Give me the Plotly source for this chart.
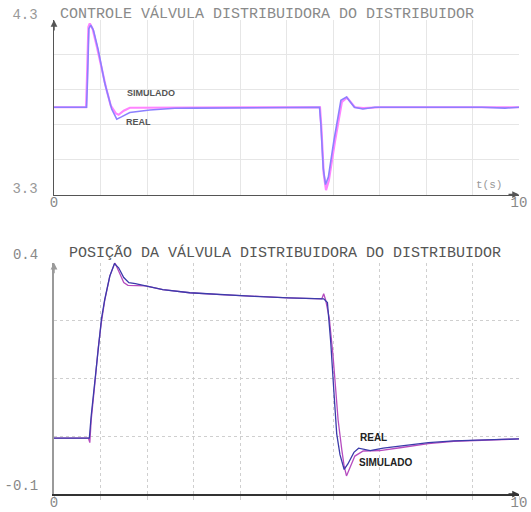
import plotly.graph_objects as go

# ---------------- data: top chart (CONTROLE) ----------------
t_top_real = [0, 0.70, 0.72, 0.75, 0.79, 0.85, 0.95, 1.09, 1.24, 1.35, 1.45, 1.63, 2.06, 2.6, 3.0, 4.0, 5.0,
              5.71, 5.74, 5.79, 5.84, 5.90, 6.02, 6.17, 6.29, 6.46, 6.64, 6.9, 7.5, 8.5, 9.2, 9.7, 10]
v_top_real = [3.80, 3.80, 3.95, 4.25, 4.27, 4.24, 4.13, 3.94, 3.79, 3.732, 3.745, 3.77, 3.784, 3.794, 3.795, 3.797, 3.798,
              3.80, 3.70, 3.45, 3.357, 3.40, 3.61, 3.84, 3.858, 3.80, 3.79, 3.80, 3.80, 3.80, 3.80, 3.795, 3.80]

t_top_sim = [0, 0.69, 0.71, 0.74, 0.77, 0.83, 0.92, 1.02, 1.12, 1.22, 1.33, 1.39, 1.50, 1.63, 2.3, 3.0, 5.0,
             5.72, 5.75, 5.80, 5.85, 5.91, 6.04, 6.19, 6.30, 6.47, 6.65, 7.0, 8.0, 9.0, 10]
v_top_sim = [3.80, 3.80, 3.97, 4.26, 4.28, 4.25, 4.15, 4.03, 3.91, 3.81, 3.765, 3.757, 3.78, 3.797, 3.798, 3.80, 3.80,
             3.80, 3.68, 3.42, 3.325, 3.38, 3.60, 3.83, 3.855, 3.80, 3.795, 3.80, 3.80, 3.80, 3.80]

# ---------------- data: bottom chart (POSIÇÃO) ----------------
t_bot_real = [0, 0.76, 0.80, 0.88, 0.95, 1.02, 1.09, 1.20, 1.30, 1.39, 1.50, 1.61, 1.75, 1.97, 2.34, 2.92, 3.58,
              4.31, 5.04, 5.80, 5.88, 5.95, 6.02, 6.08, 6.15, 6.24, 6.32, 6.45, 6.55, 6.68, 6.80, 7.08, 7.44,
              8.05, 8.6, 9.3, 10]
v_bot_real = [0.021, 0.021, 0.069, 0.148, 0.22, 0.278, 0.32, 0.371, 0.398, 0.389, 0.368, 0.357, 0.355, 0.350,
              0.342, 0.335, 0.331, 0.327, 0.324, 0.322, 0.314, 0.23, 0.12, 0.03, -0.015, -0.047, -0.035, -0.01,
              -0.001, -0.004, -0.006, -0.001, 0.004, 0.011, 0.015, 0.017, 0.019]

t_bot_sim = [0, 0.74, 0.77, 0.80, 0.88, 0.95, 1.02, 1.09, 1.20, 1.31, 1.39, 1.50, 1.59, 1.97, 2.34, 2.92, 3.58,
             4.31, 5.04, 5.76, 5.80, 5.84, 5.92, 6.00, 6.06, 6.11, 6.19, 6.24, 6.29, 6.36, 6.47, 6.65, 7.01,
             7.44, 8.05, 8.6, 9.3, 10]
v_bot_sim = [0.021, 0.021, 0.011, 0.06, 0.14, 0.215, 0.272, 0.318, 0.371, 0.400, 0.382, 0.357, 0.351, 0.350,
             0.342, 0.335, 0.331, 0.327, 0.324, 0.322, 0.333, 0.32, 0.28, 0.20, 0.12, 0.06, -0.005, -0.04,
             -0.061, -0.045, -0.018, -0.007, -0.006, 0.0, 0.009, 0.014, 0.017, 0.019]

# ---------------- labels / ticks ----------------
title_top = "CONTROLE VÁLVULA DISTRIBUIDORA DO DISTRIBUIDOR"
title_bot = "POSIÇÃO DA VÁLVULA DISTRIBUIDORA DO DISTRIBUIDOR"
x_ticks = list(range(0, 11))
x_ticktext = ["0"] + [""] * 9 + ["10"]
y_top_ticks = [3.3, 3.5, 3.7, 3.9, 4.1, 4.3]
y_top_text = ["3.3", "", "", "", "", "4.3"]
y_bot_ticks = [-0.1, 0.025, 0.15, 0.275, 0.4]
y_bot_text = ["-0.1", "", "", "", "0.4"]

MONO = "Liberation Mono, DejaVu Sans Mono, monospace"
SANS = "Liberation Sans, Arial, sans-serif"

fig = go.Figure()

fig.add_trace(go.Scatter(x=t_top_sim, y=v_top_sim, mode="lines", xaxis="x", yaxis="y",
                         line=dict(color="#ff84ff", width=2.2), showlegend=False, name="SIMULADO"))
fig.add_trace(go.Scatter(x=t_top_real, y=v_top_real, mode="lines", xaxis="x", yaxis="y",
                         line=dict(color="#8c80ff", width=1.6), showlegend=False, name="REAL"))
fig.add_trace(go.Scatter(x=t_bot_sim, y=v_bot_sim, mode="lines", xaxis="x2", yaxis="y2",
                         line=dict(color="#b64cbf", width=1.3), showlegend=False, name="SIMULADO"))
fig.add_trace(go.Scatter(x=t_bot_real, y=v_bot_real, mode="lines", xaxis="x2", yaxis="y2",
                         line=dict(color="#3b3baa", width=1.3), showlegend=False, name="REAL"))

xdom = [54 / 531, 519 / 531]
common_x = dict(domain=xdom, range=[0, 10], tickvals=x_ticks, ticktext=x_ticktext, automargin=False,
                showline=True, zeroline=False, tickfont=dict(family=MONO, size=14, color="#888"))

fig.update_layout(
    width=531, height=512,
    margin=dict(l=0, r=0, t=0, b=0, autoexpand=False),
    paper_bgcolor="white", plot_bgcolor="white", showlegend=False,
    xaxis=dict(**common_x, anchor="y", showgrid=True, gridcolor="#e6e6e6", gridwidth=1,
               linecolor="#555", linewidth=1.5, ticks="", ticklabelstandoff=-6),
    yaxis=dict(domain=[(512 - 194.5) / 512, (512 - 20) / 512], range=[3.3, 4.3], anchor="x",
               tickvals=y_top_ticks, ticktext=y_top_text, showgrid=True, gridcolor="#e6e6e6",
               showline=True, linecolor="#555", linewidth=1.5, zeroline=False, ticks="",
               ticklabelshift=-6, ticklabelstandoff=12, automargin=False,
               tickfont=dict(family=MONO, size=14, color="#999")),
    xaxis2=dict(**common_x, anchor="y2", showgrid=True, gridcolor="#cfcfcf", griddash="3px,3px",
                linecolor="#333", linewidth=1.5, ticks="outside", ticklen=4, tickcolor="#d0d0d0",
                ticklabelstandoff=-9),
    yaxis2=dict(domain=[(512 - 494) / 512, (512 - 262.7) / 512], range=[-0.1, 0.4], anchor="x2",
                tickvals=y_bot_ticks, ticktext=y_bot_text, showgrid=True, gridcolor="#cfcfcf",
                griddash="3px,3px", showline=True, linecolor="#9a9a9a", linewidth=2, zeroline=False,
                ticks="", ticklabelshift=-9, ticklabelstandoff=11, automargin=False,
                tickfont=dict(family=MONO, size=14, color="#888")),
)

ann = []
ann.append(dict(text=title_top, xref="paper", yref="paper", x=58 / 531, y=1 - 13.5 / 512,
                xanchor="left", yanchor="middle", showarrow=False,
                font=dict(family=MONO, size=15, color="#8a8a8a")))
ann.append(dict(text=title_bot, xref="paper", yref="paper", x=67 / 531, y=1 - 253 / 512,
                xanchor="left", yanchor="middle", showarrow=False,
                font=dict(family=MONO, size=15, color="#555")))
ann.append(dict(text="<b>SIMULADO</b>", x=2.09, y=3.883, xref="x", yref="y", showarrow=False,
                font=dict(family=SANS, size=9, color="#555")))
ann.append(dict(text="<b>REAL</b>", x=1.81, y=3.717, xref="x", yref="y", showarrow=False,
                font=dict(family=SANS, size=9, color="#555")))
ann.append(dict(text="t(s)", x=9.35, y=3.354, xref="x", yref="y", showarrow=False,
                font=dict(family=MONO, size=11, color="#999")))
ann.append(dict(text="<b>REAL</b>", x=6.87, y=0.0226, xref="x2", yref="y2", showarrow=False,
                font=dict(family=SANS, size=10, color="#222")))
ann.append(dict(text="<b>SIMULADO</b>", x=7.15, y=-0.0315, xref="x2", yref="y2", showarrow=False,
                font=dict(family=SANS, size=10, color="#222")))
for xr, yr, xv, yv, ax, ay, col in [("x", "y", 0, 4.3, 0, 12, "#555"),
                                    ("x", "y", 10, 3.3, -12, 0, "#555"),
                                    ("x2", "y2", 0, 0.4, 0, 12, "#9a9a9a"),
                                    ("x2", "y2", 10, -0.1, -12, 0, "#333")]:
    ann.append(dict(text="", x=xv, y=yv, xref=xr, yref=yr, showarrow=True, ax=ax, ay=ay,
                    arrowhead=2, arrowsize=0.9, arrowwidth=1.5, arrowcolor=col, standoff=0))
fig.update_layout(annotations=ann)

post = ("var s='margin:0;padding:0;overflow:hidden;';"
        "document.documentElement.style.cssText=s;document.body.style.cssText=s;")
fig.write_html("out.html", config={"displayModeBar": False, "staticPlot": True}, post_script=post)
